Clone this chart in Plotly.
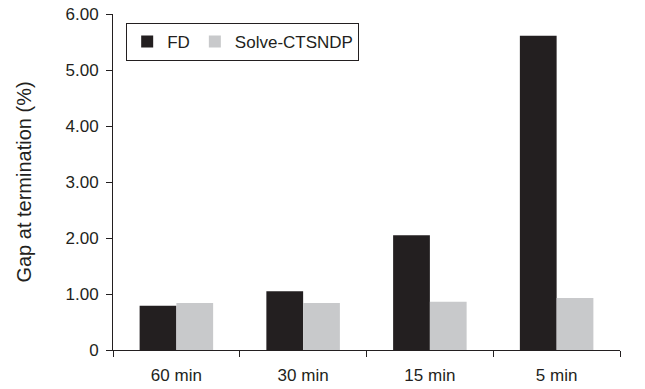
import plotly.graph_objects as go

categories = ["60 min", "30 min", "15 min", "5 min"]
fd_values = [0.79, 1.05, 2.05, 5.61]
solve_values = [0.84, 0.84, 0.86, 0.93]
y_tickvals = [0, 1, 2, 3, 4, 5, 6]
y_ticktext = ["0", "1.00", "2.00", "3.00", "4.00", "5.00", "6.00"]

FONT = "Liberation Sans, Arial, sans-serif"

fig = go.Figure()
fig.add_trace(go.Bar(name="FD", x=categories, y=fd_values,
                     marker=dict(color="#231f20", line=dict(width=0))))
fig.add_trace(go.Bar(name="Solve-CTSNDP", x=categories, y=solve_values,
                     marker=dict(color="#c8c9cb", line=dict(width=0))))

fig.update_layout(
    width=645, height=389,
    margin=dict(l=113, r=25, t=14, b=39),
    paper_bgcolor="white", plot_bgcolor="white",
    barmode="group", bargap=0.42, bargroupgap=0,
    font=dict(family=FONT, size=17, color="#231f20"),
    showlegend=True,
    legend=dict(orientation="h", x=0.026, y=0.973, xanchor="left", yanchor="top",
                bordercolor="#231f20", borderwidth=1, bgcolor="white",
                font=dict(size=17), itemwidth=30, tracegroupgap=0,
                itemsizing="constant"),
    xaxis=dict(showline=True, linecolor="#231f20", linewidth=1,
               ticks="outside", tickson="boundaries", ticklen=6, tickcolor="#231f20",
               showgrid=False, zeroline=False, tickfont=dict(size=17),
               ticklabelstandoff=10, automargin=False),
    yaxis=dict(range=[0, 6], showline=True, linecolor="#231f20", linewidth=1,
               ticks="outside", ticklen=6, tickcolor="#231f20",
               tickvals=y_tickvals, ticktext=y_ticktext,
               showgrid=False, zeroline=False, tickfont=dict(size=17),
               ticklabelstandoff=4, automargin=False,
               title=dict(text="Gap at termination (%)", font=dict(size=20), standoff=28)),
)

fig.write_html("out.html")
